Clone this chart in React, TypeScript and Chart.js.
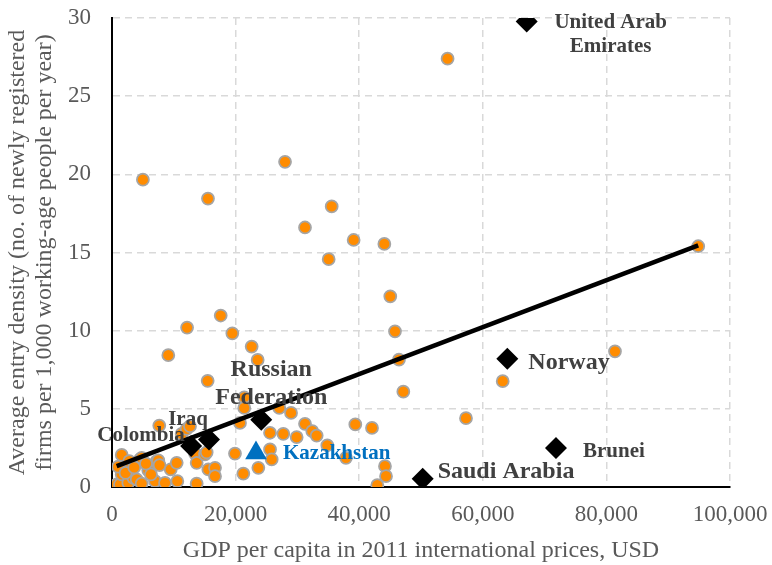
import React, { useEffect, useRef } from "react";
import { Chart, registerables } from "chart.js";

Chart.register(...registerables);

// Other countries (orange dots)
const otherGdp = [
  300, 760, 1300, 1570, 1570, 2640, 2800, 2910, 3450, 4000, 4530, 4800, 4800, 5870, 6960, 7230,
  7490, 7650, 7700, 8580, 9500, 10470, 10570, 11270, 12080, 12620, 13430, 13700, 13700, 15050,
  15320, 15590, 16670, 16670, 9110, 12150, 15480, 17590, 19470, 22600, 23570, 21400, 21400, 20710,
  19900, 21250, 23680, 25570, 25840, 25570, 27070, 27720, 28970, 29880, 31230, 32410, 33120, 34840,
  37860, 39370, 42070, 44170, 44340, 42930, 47140, 46440, 45790, 45030, 35060, 39100, 44070, 31230,
  35550, 28000, 15530, 5000, 54300, 57280, 63220, 81390, 94860, 1000, 5500, 6300, 2200, 3600,
];
const otherDensity = [
  0.05, 0.16, 0.16, 2.05, 0.8, 0.27, 1.65, 1.16, 0.59, 0.48, 1.76, 1.87, 0.22, 1.07, 0.37, 1.65,
  1.7, 3.93, 1.4, 0.27, 1.12, 1.55, 0.37, 3.4, 3.72, 3.89, 2.14, 1.55, 0.22, 2.08,
  2.22, 1.12, 1.23, 0.69, 8.43, 10.2, 6.79, 10.97, 9.83, 8.98, 8.13, 5.74, 5.06, 4.1,
  2.14, 0.86, 1.23, 2.4, 1.76, 3.47, 5.06, 3.4, 4.74, 3.19, 4.04, 3.57, 3.29, 2.67,
  1.87, 4.0, 3.78, 1.33, 0.69, 0.12, 6.1, 8.15, 9.96, 12.2, 14.57, 15.8, 15.55, 16.6,
  17.95, 20.8, 18.45, 19.66, 27.4, 4.4, 6.77, 8.68, 15.4, 1.3, 1.5, 0.8, 0.9, 1.25,
];

// Highlighted countries (black diamonds)
const markedNames = [
  "United Arab Emirates",
  "Norway",
  "Brunei",
  "Saudi Arabia",
  "Russian Federation",
  "Iraq",
  "Colombia",
];
const markedGdp = [67100, 63970, 71840, 50270, 24150, 15700, 12800];
const markedDensity = [29.78, 8.2, 2.5, 0.52, 4.3, 3.04, 2.63];

// Kazakhstan (blue triangle)
const kazName = "Kazakhstan";
const kazGdp = [23300];
const kazDensity = [2.17];

// Trend line end points
const trendGdp = [760, 94860];
const trendDensity = [1.33, 15.45];

const xTickValues = [0, 20000, 40000, 60000, 80000, 100000];
const yTickValues = [0, 5, 10, 15, 20, 25, 30];

const xTitle = "GDP per capita in 2011 international prices, USD";
const yTitle = [
  "Average entry density (no. of newly registered",
  "firms per 1,000 working-age people per year)",
];

const SERIF = "'Liberation Serif', 'Times New Roman', serif";

// label styles keyed by name (pixel offsets from the marker)
const labelStyles: Record<
  string,
  { lines: string[]; size: number; align: CanvasTextAlign; dx: number; dy: number; color: string }
> = {
  "United Arab Emirates": { lines: ["United Arab", "Emirates"], size: 21, align: "center", dx: 84, dy: 1, color: "#404040" },
  Norway: { lines: ["Norway"], size: 24, align: "left", dx: 21, dy: 4, color: "#404040" },
  Brunei: { lines: ["Brunei"], size: 21, align: "left", dx: 27, dy: 4, color: "#404040" },
  "Saudi Arabia": { lines: ["Saudi Arabia"], size: 24, align: "left", dx: 15, dy: -7, color: "#404040" },
  "Russian Federation": { lines: ["Russian", "Federation"], size: 24, align: "center", dx: 10, dy: -50, color: "#404040" },
  Iraq: { lines: ["Iraq"], size: 21, align: "center", dx: -21, dy: -20, color: "#404040" },
  Colombia: { lines: ["Colombia"], size: 21, align: "center", dx: -50, dy: -10, color: "#404040" },
  Kazakhstan: { lines: ["Kazakhstan"], size: 21, align: "left", dx: 27, dy: 1, color: "#0070C0" },
};

const labelPlugin = {
  id: "countryLabels",
  afterDatasetsDraw(chart: any) {
    const ctx = chart.ctx;
    const xs = chart.scales.x;
    const ys = chart.scales.y;
    const items: { name: string; x: number; y: number }[] = markedNames.map((n, i) => ({
      name: n,
      x: markedGdp[i],
      y: markedDensity[i],
    }));
    items.push({ name: kazName, x: kazGdp[0], y: kazDensity[0] });
    ctx.save();
    items.forEach((it) => {
      const st = labelStyles[it.name];
      if (!st) return;
      const px = xs.getPixelForValue(it.x);
      const py = ys.getPixelForValue(it.y);
      ctx.font = `bold ${st.size}px ${SERIF}`;
      ctx.fillStyle = st.color;
      ctx.textAlign = st.align;
      ctx.textBaseline = "middle";
      const lh = st.size * 1.15;
      st.lines.forEach((line, k) => {
        ctx.fillText(line, px + st.dx, py + st.dy + k * lh);
      });
    });
    ctx.restore();
  },
};

export default function App() {
  const canvasRef = useRef<HTMLCanvasElement | null>(null);

  useEffect(() => {
    const canvas = canvasRef.current;
    if (!canvas) return;

    const chart = new Chart(canvas, {
      type: "scatter",
      data: {
        datasets: [
          {
            label: "Highlighted",
            data: markedGdp.map((x, i) => ({ x, y: markedDensity[i] })),
            pointStyle: "rectRot",
            pointRadius: 11,
            backgroundColor: "#000000",
            borderColor: "#000000",
            borderWidth: 0,
            order: 0,
          },
          {
            label: kazName,
            data: kazGdp.map((x, i) => ({ x, y: kazDensity[i] })),
            pointStyle: "triangle",
            pointRadius: 12.5,
            backgroundColor: "#0070C0",
            borderColor: "#0070C0",
            borderWidth: 0,
            order: 0,
          },
          {
            type: "line",
            label: "Trend",
            data: trendGdp.map((x, i) => ({ x, y: trendDensity[i] })),
            borderColor: "#000000",
            borderWidth: 4.5,
            pointRadius: 0,
            fill: false,
            order: 1,
          } as any,
          {
            label: "Other countries",
            data: otherGdp.map((x, i) => ({ x, y: otherDensity[i] })),
            pointStyle: "circle",
            pointRadius: 6,
            backgroundColor: "#FF8C00",
            borderColor: "#A5A5A5",
            borderWidth: 1.75,
            order: 2,
          },
        ],
      },
      options: {
        animation: false,
        responsive: false,
        devicePixelRatio: 1,
        layout: { padding: { top: 18, right: 42, left: 0, bottom: 0 } },
        plugins: {
          legend: { display: false },
          tooltip: { enabled: false },
        },
        scales: {
          x: {
            type: "linear",
            min: 0,
            max: 100000,
            afterBuildTicks: (scale: any) => {
              scale.ticks = xTickValues.map((v) => ({ value: v }));
            },
            afterFit: (scale: any) => {
              scale.height = 78;
              scale.paddingLeft = 0;
              scale.paddingRight = 0;
            },
            ticks: {
              color: "#595959",
              font: { family: SERIF, size: 23 },
              padding: 14,
              maxRotation: 0,
              callback: (v: any) => Number(v).toLocaleString("en-US"),
            },
            grid: { color: "#D9D9D9", lineWidth: 1.5, drawTicks: false },
            border: { display: true, color: "#000000", width: 2, dash: [7, 5] },
            title: {
              display: true,
              text: xTitle,
              color: "#595959",
              font: { family: SERIF, size: 24, lineHeight: 1.05 },
              padding: { top: 0, bottom: 2 },
            },
          },
          y: {
            type: "linear",
            min: 0,
            max: 30,
            afterBuildTicks: (scale: any) => {
              scale.ticks = yTickValues.map((v) => ({ value: v }));
            },
            afterFit: (scale: any) => {
              scale.width = 112;
              scale.paddingTop = 0;
              scale.paddingBottom = 0;
            },
            ticks: {
              color: "#595959",
              font: { family: SERIF, size: 23 },
              padding: 21,
            },
            grid: { color: "#D9D9D9", lineWidth: 1.5, drawTicks: false },
            border: { display: true, color: "#000000", width: 2, dash: [7, 5] },
            title: {
              display: true,
              text: yTitle,
              color: "#595959",
              font: { family: SERIF, size: 24, lineHeight: 1.1 },
              padding: { top: 5, bottom: 0 },
            },
          },
        },
      } as any,
      plugins: [labelPlugin],
    });

    return () => {
      chart.destroy();
    };
  }, []);

  return (
    <div style={{ position: "fixed", left: 0, top: 0, width: 772, height: 565, background: "#ffffff" }}>
      <canvas ref={canvasRef} width={772} height={565} style={{ width: 772, height: 565 }} />
    </div>
  );
}
